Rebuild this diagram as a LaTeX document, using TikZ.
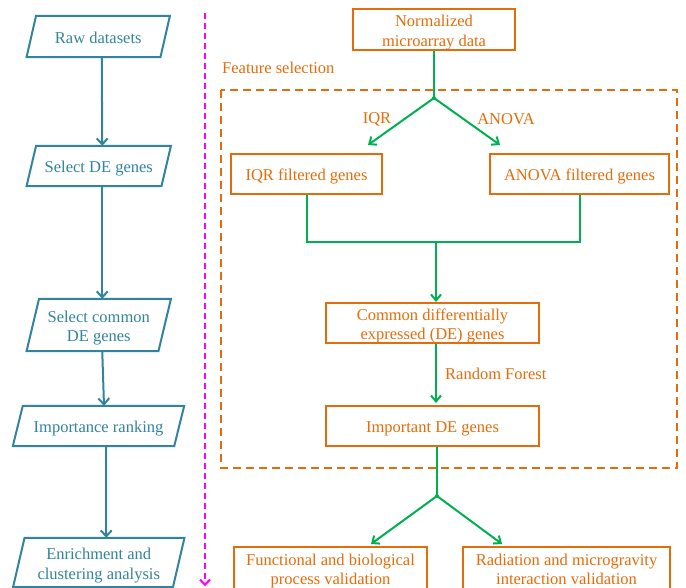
\documentclass[tikz,border=0pt]{standalone}
\usepackage{fontspec}
\setmainfont{Liberation Serif}
\usetikzlibrary{arrows.meta,calc}
\definecolor{tealc}{RGB}{49,132,155}
\definecolor{orangec}{RGB}{228,108,10}
\definecolor{greenc}{RGB}{0,176,80}
\definecolor{magc}{RGB}{255,0,255}
\newcommand{\lift}[1]{\raisebox{-3pt}[\height][\depth]{\begin{tabular}{@{}c@{}}#1\end{tabular}}}
\begin{document}
\begin{tikzpicture}[x=1pt,y=-1pt,
  every node/.style={font=\fontsize{16.5}{19.8}\selectfont, inner sep=0pt, align=center},
  pnode/.style={text=tealc, minimum height=#1},
  obox/.style={draw=orangec, line width=2pt, text=orangec, minimum height=#1},
  tealarrow/.style={draw=tealc, line width=2pt, -{Straight Barb[length=6pt,width=11pt,line width=2pt]}},
  garrow/.style={draw=greenc, line width=2pt, -{Straight Barb[length=6pt,width=10pt,line width=2pt]}},
  gline/.style={draw=greenc, line width=2pt},
  olabel/.style={text=orangec}]
\useasboundingbox (0,0) rectangle (686,588);
% left column
\node[pnode=41, minimum width=133.5] (raw) at (98.25,36.5) {\lift{Raw datasets}};
\node[pnode=40, minimum width=134.5] (sel) at (98.75,166) {\lift{Select DE genes}};
\node[pnode=52, minimum width=131.5] (com) at (98.75,325) {\lift{Select common\\DE genes}};
\node[pnode=40, minimum width=161] (imp) at (98.5,426) {\lift{Importance ranking}};
\node[pnode=49, minimum width=159.5] (enr) at (98.75,562.5) {\lift{Enrichment and\\clustering analysis}};
\foreach \n/\s in {raw/9.5, sel/9.5, com/12.5, imp/10, enr/11.5}{
  \draw[tealc, line width=2pt, line join=miter]
    ([xshift=-\s/2]\n.south west) -- ([xshift=\s/2]\n.north west) --
    ([xshift=\s/2]\n.north east) -- ([xshift=-\s/2]\n.south east) -- cycle;
}
\draw[tealarrow] ([xshift=3.5]raw.south) -- ([xshift=3.5]sel.north);
\draw[tealarrow] ([xshift=3.5]sel.south) -- ([xshift=3.5]com.north);
\draw[tealarrow] ([xshift=3.5]com.south) -- ([xshift=5.5]imp.north);
\draw[tealarrow] ([xshift=7.5]imp.south) -- ([xshift=7.5]enr.north);
% magenta divider
\coordinate (m1) at (205,13);
\coordinate (m2) at (205,586);
\draw[magc, line width=2.2pt, dash pattern=on 6pt off 4pt, -{Straight Barb[length=5pt,width=10pt,line width=2pt]}] (m1) -- (m2);
% feature selection region
\draw[orangec, line width=2.5pt, dash pattern=on 8pt off 5pt] (221,90) rectangle (677,468);
\node[olabel, anchor=west] (fs) at (222,68) {Feature selection};
% right column boxes
\node[obox=41, minimum width=162] (norm) at (434,29.5) {\lift{Normalized\\microarray data}};
\node[obox=40, minimum width=151] (iqr) at (306.5,174) {\lift{IQR filtered genes}};
\node[obox=40, minimum width=179] (anova) at (579.5,174) {\lift{ANOVA filtered genes}};
\node[obox=40, minimum width=213] (cde) at (432.5,323) {\lift{Common differentially\\expressed (DE) genes}};
\node[obox=40, minimum width=213] (ide) at (432.5,426) {\lift{Important DE genes}};
\node[obox=42, minimum width=193] (fun) at (330.5,568) {\lift{Functional and biological\\process validation}};
\node[obox=42, minimum width=207] (rad) at (566.5,568) {\lift{Radiation and microgravity\\interaction validation}};
% green connectors
\coordinate (j1) at (434,98);
\coordinate (t1) at (368,145);
\coordinate (t2) at (500,145);
\draw[gline] (norm.south) -- (j1);
\fill[greenc] (j1) circle (2pt);
\draw[garrow] (j1) -- (t1);
\draw[garrow] (j1) -- (t2);
\node[olabel] (lq) at (377,119) {IQR};
\node[olabel] (la) at (506,119) {ANOVA};
\coordinate (mg) at (436,242);
\draw[gline, line join=miter] (iqr.south) -- (iqr.south |- mg) -- (anova.south |- mg) -- (anova.south);
\draw[garrow] (mg) -- (mg |- cde.north);
\draw[garrow, shorten >=2pt] ([xshift=3.5]cde.south) -- ([xshift=3.5]ide.north);
\node[olabel, anchor=west] (rf) at (445,374) {Random Forest};
\coordinate (j2) at (437,496);
\coordinate (t3) at (371,544);
\coordinate (t4) at (502,544);
\draw[gline] ([xshift=4.5]ide.south) -- (j2);
\fill[greenc] (j2) circle (2pt);
\draw[garrow] (j2) -- (t3);
\draw[garrow] (j2) -- (t4);
\end{tikzpicture}
\end{document}
